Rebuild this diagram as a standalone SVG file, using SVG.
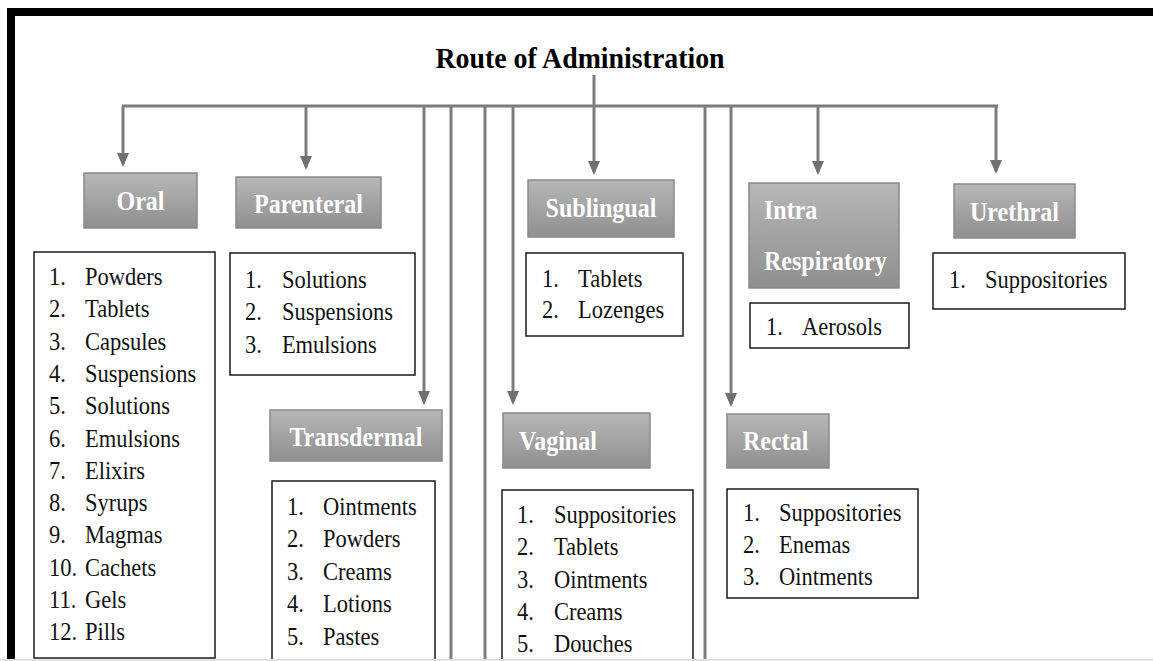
<svg xmlns="http://www.w3.org/2000/svg" width="1153" height="661" viewBox="0 0 1153 661">
  <defs>
    <linearGradient id="gBox" x1="0" y1="0" x2="0" y2="1">
      <stop offset="0" stop-color="#b7b7b7"/>
      <stop offset="1" stop-color="#8f8f8f"/>
    </linearGradient>
    <marker id="arr" markerUnits="userSpaceOnUse" viewBox="0 0 14 12" markerWidth="14" markerHeight="12" refX="11" refY="6" orient="auto">
      <path d="M0,0 L14,6 L0,12 z" fill="#707070"/>
    </marker>
    <clipPath id="page"><rect x="0" y="0" width="1153" height="659"/></clipPath>
  </defs>
  <style>
    .lbl { fill: url(#gBox); stroke: #8a8a8a; stroke-width: 1.5; }
    .lblt { font-family: "Liberation Serif", "Times New Roman", serif; font-weight: bold; font-size: 27px; fill: #ffffff; transform-box: fill-box; transform-origin: center; transform: scale(0.89, 1); }
    .lblt.left { transform-origin: left center; }
    .lst { fill: #ffffff; stroke: #1a1a1a; stroke-width: 1.5; }
    .lstt { font-family: "Liberation Serif", "Times New Roman", serif; font-size: 25px; fill: #111111; transform-box: fill-box; transform-origin: left center; transform: scale(0.9, 1); }
    .con { stroke: #7c7c7c; stroke-width: 3; fill: none; }
    .title { font-family: "Liberation Serif", "Times New Roman", serif; font-weight: bold; font-size: 29px; fill: #000000; transform-box: fill-box; transform-origin: center; transform: scale(0.96, 1); }
  </style>
  <rect x="0" y="0" width="1153" height="661" fill="#ffffff"/>
  <!-- frame -->
  <rect x="7" y="8" width="1146" height="8" fill="#000000"/>
  <rect x="7" y="8" width="8" height="651" fill="#000000"/>

  <g id="title">
    <text class="title" x="580" y="68" text-anchor="middle">Route of Administration</text>
  </g>

  <g clip-path="url(#page)">
  <g id="connectors">
    <path class="con" d="M122,106 H998"/>
    <path class="con" d="M594,75 V172" marker-end="url(#arr)"/>
    <path class="con" d="M123,106 V164" marker-end="url(#arr)"/>
    <path class="con" d="M306,106 V167" marker-end="url(#arr)"/>
    <path class="con" d="M424,106 V402" marker-end="url(#arr)"/>
    <path class="con" d="M451,106 V661"/>
    <path class="con" d="M485,106 V661"/>
    <path class="con" d="M513,106 V402" marker-end="url(#arr)"/>
    <path class="con" d="M705,106 V661"/>
    <path class="con" d="M731,106 V404" marker-end="url(#arr)"/>
    <path class="con" d="M818,106 V172" marker-end="url(#arr)"/>
    <path class="con" d="M996,106 V171" marker-end="url(#arr)"/>
  </g>

  <g id="oral">
    <rect class="lbl" x="84" y="173" width="113" height="55"/>
    <text class="lblt" x="140.5" y="210" text-anchor="middle">Oral</text>
    <rect class="lst" x="34" y="252" width="181" height="406"/>
    <text class="lstt">
      <tspan x="49" y="285">1.</tspan><tspan x="89">Powders</tspan>
      <tspan x="49" y="317">2.</tspan><tspan x="89">Tablets</tspan>
      <tspan x="49" y="350">3.</tspan><tspan x="89">Capsules</tspan>
      <tspan x="49" y="382">4.</tspan><tspan x="89">Suspensions</tspan>
      <tspan x="49" y="414">5.</tspan><tspan x="89">Solutions</tspan>
      <tspan x="49" y="447">6.</tspan><tspan x="89">Emulsions</tspan>
      <tspan x="49" y="479">7.</tspan><tspan x="89">Elixirs</tspan>
      <tspan x="49" y="511">8.</tspan><tspan x="89">Syrups</tspan>
      <tspan x="49" y="543">9.</tspan><tspan x="89">Magmas</tspan>
      <tspan x="49" y="576">10.</tspan><tspan x="89">Cachets</tspan>
      <tspan x="49" y="608">11.</tspan><tspan x="89">Gels</tspan>
      <tspan x="49" y="640">12.</tspan><tspan x="89">Pills</tspan>
    </text>
  </g>

  <g id="parenteral">
    <rect class="lbl" x="236" y="177" width="145" height="51"/>
    <text class="lblt" x="308.5" y="213" text-anchor="middle">Parenteral</text>
    <rect class="lst" x="230" y="253" width="185" height="122"/>
    <text class="lstt">
      <tspan x="245" y="288">1.</tspan><tspan x="286">Solutions</tspan>
      <tspan x="245" y="320">2.</tspan><tspan x="286">Suspensions</tspan>
      <tspan x="245" y="353">3.</tspan><tspan x="286">Emulsions</tspan>
    </text>
  </g>

  <g id="transdermal">
    <rect class="lbl" x="270" y="410" width="172" height="51"/>
    <text class="lblt" x="356" y="446" text-anchor="middle">Transdermal</text>
    <rect class="lst" x="272" y="481" width="163" height="220"/>
    <text class="lstt">
      <tspan x="287" y="515">1.</tspan><tspan x="327">Ointments</tspan>
      <tspan x="287" y="547">2.</tspan><tspan x="327">Powders</tspan>
      <tspan x="287" y="580">3.</tspan><tspan x="327">Creams</tspan>
      <tspan x="287" y="612">4.</tspan><tspan x="327">Lotions</tspan>
      <tspan x="287" y="645">5.</tspan><tspan x="327">Pastes</tspan>
    </text>
  </g>

  <g id="sublingual">
    <rect class="lbl" x="528" y="180" width="146" height="57"/>
    <text class="lblt" x="601" y="217" text-anchor="middle">Sublingual</text>
    <rect class="lst" x="526" y="253" width="157" height="83"/>
    <text class="lstt">
      <tspan x="542" y="287">1.</tspan><tspan x="582">Tablets</tspan>
      <tspan x="542" y="318">2.</tspan><tspan x="582">Lozenges</tspan>
    </text>
  </g>

  <g id="vaginal">
    <rect class="lbl" x="503" y="413" width="147" height="55"/>
    <text class="lblt left" x="519" y="450">Vaginal</text>
    <rect class="lst" x="502" y="490" width="191" height="220"/>
    <text class="lstt">
      <tspan x="517" y="523">1.</tspan><tspan x="558">Suppositories</tspan>
      <tspan x="517" y="555">2.</tspan><tspan x="558">Tablets</tspan>
      <tspan x="517" y="588">3.</tspan><tspan x="558">Ointments</tspan>
      <tspan x="517" y="620">4.</tspan><tspan x="558">Creams</tspan>
      <tspan x="517" y="652">5.</tspan><tspan x="558">Douches</tspan>
    </text>
  </g>

  <g id="rectal">
    <rect class="lbl" x="727" y="414" width="102" height="54"/>
    <text class="lblt left" x="743" y="450">Rectal</text>
    <rect class="lst" x="727" y="489" width="191" height="109"/>
    <text class="lstt">
      <tspan x="743" y="521">1.</tspan><tspan x="783">Suppositories</tspan>
      <tspan x="743" y="553">2.</tspan><tspan x="783">Enemas</tspan>
      <tspan x="743" y="585">3.</tspan><tspan x="783">Ointments</tspan>
    </text>
  </g>

  <g id="intra-respiratory">
    <rect class="lbl" x="749" y="183" width="150" height="105"/>
    <text class="lblt left">
      <tspan x="764" y="219">Intra</tspan>
      <tspan x="764" y="270">Respiratory</tspan>
    </text>
    <rect class="lst" x="750" y="303" width="159" height="45"/>
    <text class="lstt">
      <tspan x="766" y="335">1.</tspan><tspan x="806">Aerosols</tspan>
    </text>
  </g>

  <g id="urethral">
    <rect class="lbl" x="954" y="184" width="121" height="54"/>
    <text class="lblt" x="1014.5" y="221" text-anchor="middle">Urethral</text>
    <rect class="lst" x="933" y="253" width="192" height="56"/>
    <text class="lstt">
      <tspan x="949" y="288">1.</tspan><tspan x="989">Suppositories</tspan>
    </text>
  </g>
  </g>

  <rect x="0" y="659" width="1153" height="2" fill="#e2e2e2"/>
</svg>
